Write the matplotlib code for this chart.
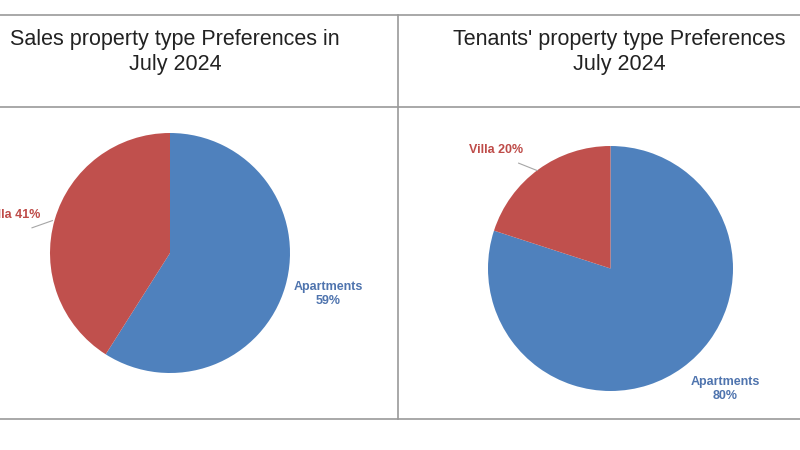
import matplotlib.pyplot as plt
from matplotlib.lines import Line2D

plt.rcParams["font.family"] = ["Liberation Sans", "DejaVu Sans"]

property_types = ["Apartments", "Villa"]
sales_share = [59, 41]
tenant_share = [80, 20]
colors = ["#4F81BD", "#C0504D"]
label_colors = ["#4F74AE", "#BE4B48"]

W, H = 800, 450
fig = plt.figure(figsize=(8, 4.5), dpi=100)


def px_axes(cx, cy, r):
    # pie axes placed by pixel centre / radius
    return fig.add_axes([(cx - r) / W, (H - cy - r) / H, 2 * r / W, 2 * r / H])


def draw_pie(ax, shares, label_spots, leader):
    ax.pie(shares, colors=colors, startangle=90, counterclock=False,
           radius=1, wedgeprops=dict(linewidth=0))
    ax.set_xlim(-1, 1)
    ax.set_ylim(-1, 1)
    ax.set_aspect("equal")
    ax.axis("off")
    for name, share, col, (x, y, ha, fmt) in zip(property_types, shares,
                                                  label_colors, label_spots):
        txt = fmt.format(name=name, share=share)
        ax.text(x, y, txt, color=col, fontsize=9, fontweight="bold",
                ha=ha, va="center", multialignment="center", clip_on=False)
    (x0, y0), (x1, y1) = leader
    ax.plot([x0, x1], [y0, y1], color="#A6A6A6", lw=0.8, clip_on=False)


ax1 = px_axes(170, 253, 120)
draw_pie(ax1, sales_share,
         [(1.317, -0.34, "center", "{name}\n{share}%"),
          (-1.08, 0.317, "right", "{name} {share}%")],
         ((-1.15, 0.21), (-0.98, 0.27)))

ax2 = px_axes(610.5, 268.5, 122.5)
draw_pie(ax2, tenant_share,
         [(0.939, -0.984, "center", "{name}\n{share}%"),
          (-0.935, 0.967, "center", "{name} {share}%")],
         ((-0.75, 0.86), (-0.60, 0.80)))

# titles
fig.text(175 / W, 1 - 52 / H, "Sales property type Preferences in\nJuly 2024",
         ha="center", va="center", fontsize=15.5, color="#222222",
         linespacing=1.3)
fig.text(619 / W, 1 - 52 / H, "Tenants' property type Preferences\nJuly 2024",
         ha="center", va="center", fontsize=15.5, color="#222222",
         linespacing=1.3)

# table grid
grid = dict(color="#9A9A9A", lw=1.2, transform=fig.transFigure)
for yy in (15, 107, 419):
    fig.add_artist(Line2D([0, 1], [1 - yy / H] * 2, **grid))
fig.add_artist(Line2D([398 / W] * 2, [1 - 15 / H, 1 - 419 / H], **grid))

fig.savefig("out.png", dpi=100)
